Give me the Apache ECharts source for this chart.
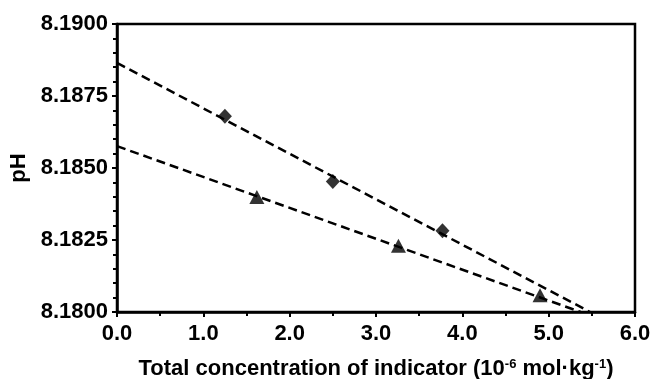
<!DOCTYPE html>
<html>
<head>
<meta charset="utf-8">
<script src="https://cdn.jsdelivr.net/npm/echarts@6/dist/echarts.min.js"></script>
<style>
  html, body { margin: 0; padding: 0; background: #fff; }
  #chart { width: 657px; height: 379px; }
</style>
</head>
<body>
<div id="chart"></div>
<script>
// measured points (diamonds / triangles)
const diamondPts = [[1.25, 8.1868], [2.5, 8.18453], [3.77, 8.18282]];
const trianglePts = [[1.62, 8.18399], [3.26, 8.1823], [4.9, 8.18058]];
// dashed fit lines, end points
const diamondFit = [[0, 8.18865], [5.48, 8.18]];
const triangleFit = [[0, 8.18576], [5.37, 8.18]];

const xRange = { min: 0, max: 6, interval: 1 };
const yRange = { min: 8.18, max: 8.19, interval: 0.0025 };

const font = "'Liberation Sans', Arial, sans-serif";
const black = "#000";

const chart = echarts.init(document.getElementById("chart"), null, { renderer: "canvas" });

const dashed = { color: black, width: 2.5, type: [9, 5] };

chart.setOption({
  backgroundColor: "#fff",
  animation: false,
  grid: {
    left: 117, right: 22, top: 24, bottom: 67,
    outerBoundsMode: "none",
    show: true, borderColor: black, borderWidth: 2.5, backgroundColor: "transparent"
  },
  xAxis: {
    type: "value",
    min: xRange.min, max: xRange.max, interval: xRange.interval,
    axisLine: { show: true, lineStyle: { color: black, width: 2.5 } },
    axisTick: { show: true, inside: false, length: 5, lineStyle: { color: black, width: 2 } },
    minorTick: { show: true, splitNumber: 2, length: 4, lineStyle: { color: black, width: 2 } },
    splitLine: { show: false },
    axisLabel: {
      color: black, fontFamily: font, fontWeight: "bold", fontSize: 22, margin: 11,
      formatter: v => v.toFixed(1)
    },
    name: "Total concentration of indicator (10{sup|-6} mol·kg{sup|-1})",
    nameLocation: "middle",
    nameGap: 46,
    nameTextStyle: {
      color: black, fontFamily: font, fontWeight: "bold", fontSize: 22,
      rich: {
        sup: { fontFamily: font, fontWeight: "bold", fontSize: 13, verticalAlign: "top", lineHeight: 13, color: black }
      }
    }
  },
  yAxis: {
    type: "value",
    min: yRange.min, max: yRange.max, interval: yRange.interval,
    axisLine: { show: true, lineStyle: { color: black, width: 2.5 } },
    axisTick: { show: true, inside: false, length: 5, lineStyle: { color: black, width: 2 } },
    minorTick: { show: true, splitNumber: 5, length: 4, lineStyle: { color: black, width: 2 } },
    splitLine: { show: false },
    axisLabel: {
      color: black, fontFamily: font, fontWeight: "bold", fontSize: 22, margin: 9,
      formatter: v => v.toFixed(4)
    },
    name: "pH",
    nameLocation: "middle",
    nameGap: 86,
    nameTextStyle: { color: black, fontFamily: font, fontWeight: "bold", fontSize: 22 }
  },
  series: [
    { type: "line", data: diamondFit, symbol: "none", lineStyle: dashed, silent: true, z: 2 },
    { type: "line", data: triangleFit, symbol: "none", lineStyle: dashed, silent: true, z: 2 },
    { type: "scatter", data: diamondPts, symbol: "diamond", symbolSize: [14, 15], itemStyle: { color: black }, z: 3 },
    { type: "scatter", data: trianglePts, symbol: "triangle", symbolSize: [15, 14], itemStyle: { color: black }, z: 3 }
  ]
});
</script>
</body>
</html>
